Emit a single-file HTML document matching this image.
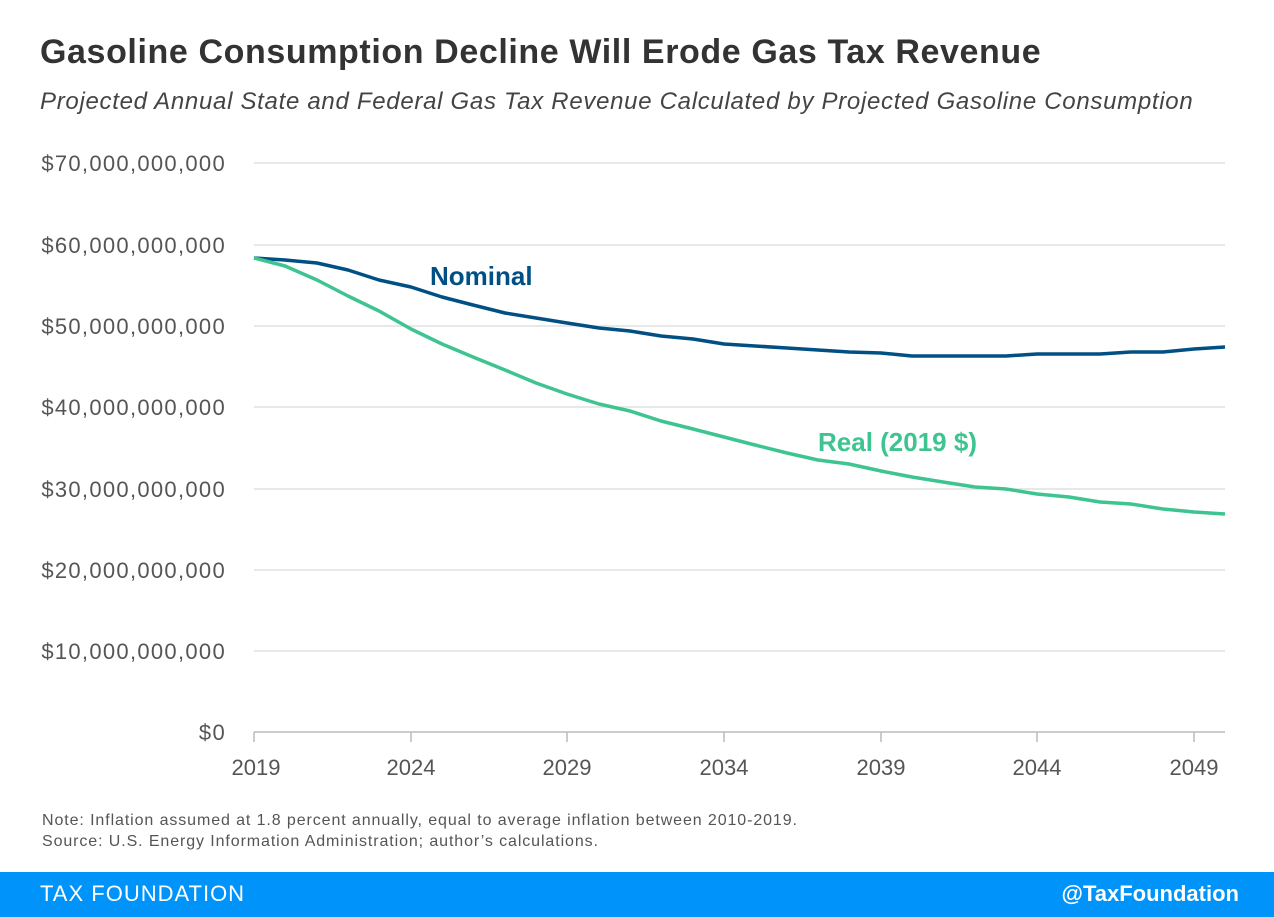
<!DOCTYPE html>
<html><head><meta charset="utf-8"><style>
body{margin:0;width:1274px;height:917px;background:#fff;overflow:hidden;font-family:"Liberation Sans",sans-serif;position:relative}
.t{position:absolute;left:40px;top:33px;font-size:34px;font-weight:bold;color:#333;letter-spacing:0.6px}
.s{position:absolute;left:40px;top:88px;font-size:24px;font-style:italic;color:#444;letter-spacing:0.7px}
.n{position:absolute;left:42px;top:810px;font-size:16px;color:#555;line-height:21px;letter-spacing:0.9px}
.f{position:absolute;left:0;top:872px;width:1274px;height:45px;background:#0094fa;color:#fff;font-size:22px}
</style></head><body>
<div class="t">Gasoline Consumption Decline Will Erode Gas Tax Revenue</div>
<div class="s">Projected Annual State and Federal Gas Tax Revenue Calculated by Projected Gasoline Consumption</div>
<svg width="1274" height="917" style="position:absolute;left:0;top:0" font-family="Liberation Sans, sans-serif">
<g stroke="#e0e0e0" stroke-width="1.5">
<line x1="254" x2="1225" y1="163" y2="163"/><line x1="254" x2="1225" y1="245" y2="245"/><line x1="254" x2="1225" y1="326" y2="326"/><line x1="254" x2="1225" y1="407" y2="407"/><line x1="254" x2="1225" y1="489" y2="489"/><line x1="254" x2="1225" y1="570" y2="570"/><line x1="254" x2="1225" y1="651" y2="651"/>
</g>
<g stroke="#bbb" stroke-width="1.5"><line x1="254" x2="1225" y1="732" y2="732"/>
<line x1="254" x2="254" y1="732" y2="742"/><line x1="411" x2="411" y1="732" y2="742"/><line x1="567" x2="567" y1="732" y2="742"/><line x1="724" x2="724" y1="732" y2="742"/><line x1="881" x2="881" y1="732" y2="742"/><line x1="1037" x2="1037" y1="732" y2="742"/><line x1="1194" x2="1194" y1="732" y2="742"/></g>
<g font-size="22" fill="#555" text-anchor="end" letter-spacing="1.3">
<text x="226" y="171">$70,000,000,000</text><text x="226" y="253">$60,000,000,000</text><text x="226" y="334">$50,000,000,000</text><text x="226" y="415">$40,000,000,000</text><text x="226" y="497">$30,000,000,000</text><text x="226" y="578">$20,000,000,000</text><text x="226" y="659">$10,000,000,000</text><text x="226" y="740">$0</text>
</g>
<g font-size="22" fill="#555" text-anchor="middle">
<text x="256" y="775">2019</text><text x="411" y="775">2024</text><text x="567" y="775">2029</text><text x="724" y="775">2034</text><text x="881" y="775">2039</text><text x="1037" y="775">2044</text><text x="1194" y="775">2049</text>
</g>
<polyline fill="none" stroke="#005084" stroke-width="3.5" stroke-linejoin="round" points="254,258 285,260 317,263 348,270 379,280 411,287 442,297 473,305 505,313 536,318 567,323 599,328 630,331 661,336 693,339 724,344 755,346 787,348 818,350 849,352 881,353 912,356 943,356 975,356 1006,356 1037,354 1069,354 1100,354 1131,352 1163,352 1194,349 1225,347"/>
<polyline fill="none" stroke="#3ec491" stroke-width="3.5" stroke-linejoin="round" points="254,258 285,266 317,280 348,296 379,311 411,329 442,344 473,357 505,370 536,383 567,394 599,404 630,411 661,421 693,429 724,437 755,445 787,453 818,460 849,464 881,471 912,477 943,482 975,487 1006,489 1037,494 1069,497 1100,502 1131,504 1163,509 1194,512 1225,514"/>
<text x="430" y="285" font-size="26" font-weight="bold" fill="#005084">Nominal</text>
<text x="818" y="451" font-size="26" font-weight="bold" fill="#3ec491">Real (2019 $)</text>
</svg>
<div class="n">Note: Inflation assumed at 1.8 percent annually, equal to average inflation between 2010-2019.<br>Source: U.S. Energy Information Administration; author’s calculations.</div>
<div class="f"><span style="position:absolute;left:40px;top:9px;letter-spacing:1px">TAX FOUNDATION</span><span style="position:absolute;right:35px;top:9px;font-weight:bold">@TaxFoundation</span></div>
</body></html>
